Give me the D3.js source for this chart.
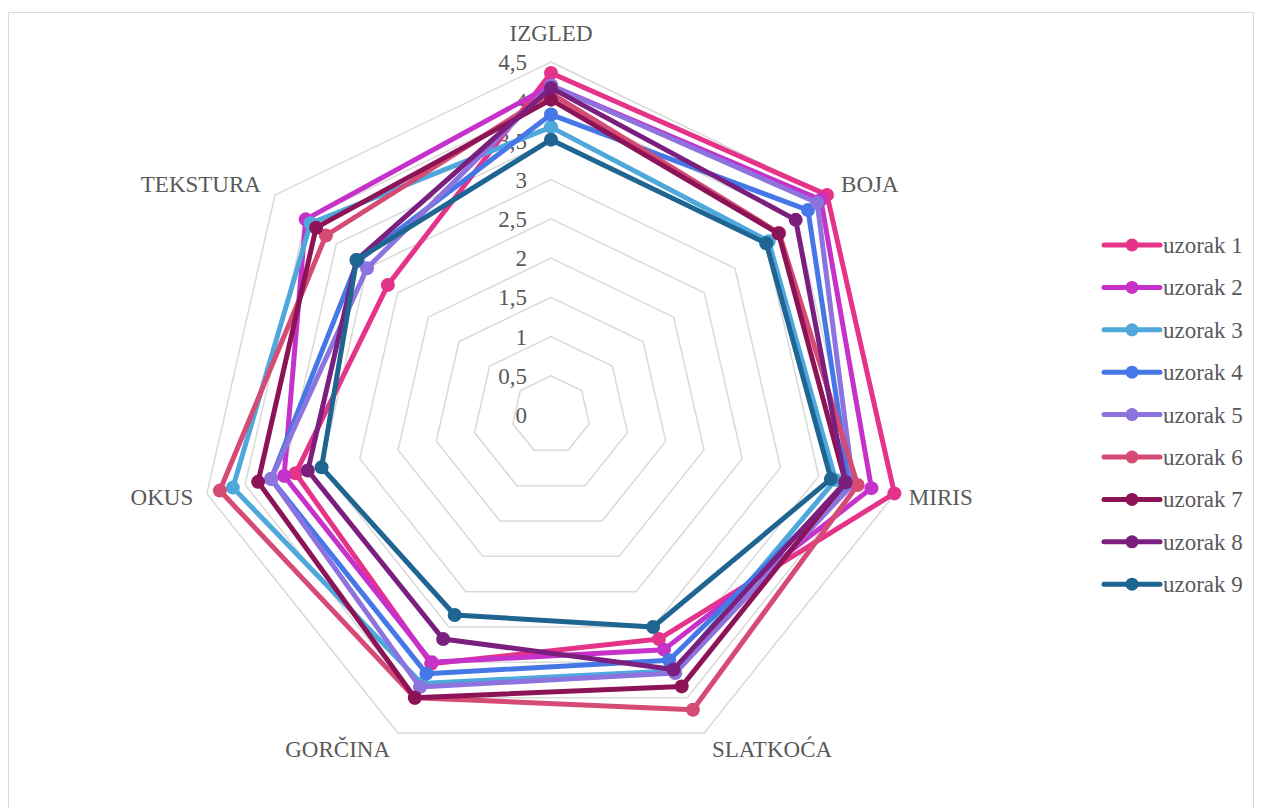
<!DOCTYPE html>
<html>
<head>
<meta charset="utf-8">
<script src="https://cdn.jsdelivr.net/npm/d3@7"></script>
<style>
  body { margin: 0; background: #fff; }
  text { font-family: "Liberation Serif", "Times New Roman", serif; fill: #595959; }
</style>
</head>
<body>
<script>
var width = 1262,
    height = 808,
    cx = 551,
    cy = 415,
    radius = 353;

var axes = ["IZGLED", "BOJA", "MIRIS", "SLATKOĆA", "GORČINA", "OKUS", "TEKSTURA"];
var ticks = [0, 0.5, 1, 1.5, 2, 2.5, 3, 3.5, 4, 4.5];
var names = ["uzorak 1", "uzorak 2", "uzorak 3", "uzorak 4", "uzorak 5", "uzorak 6", "uzorak 7", "uzorak 8", "uzorak 9"];
var colors = ["#e5338a", "#c632c9", "#4fa8dc", "#4677e6", "#8c73dd", "#d64b74", "#8c1456", "#7a1f7d", "#1f6591"];

var uzorak1 = [4.36, 4.5, 4.49, 3.17, 3.52, 3.34, 2.66];
var uzorak2 = [4.2, 4.4, 4.19, 3.32, 3.5, 3.49, 4.0];
var uzorak3 = [3.67, 3.55, 3.72, 3.62, 3.8, 4.16, 3.92];
var uzorak4 = [3.83, 4.19, 3.9, 3.47, 3.66, 3.66, 3.15];
var uzorak5 = [4.2, 4.34, 3.95, 3.65, 3.85, 3.66, 3.0];
var uzorak6 = [4.1, 3.72, 4.01, 4.17, 4.0, 4.33, 3.67];
var uzorak7 = [4.02, 3.71, 3.85, 3.84, 4.0, 3.83, 3.83];
var uzorak8 = [4.17, 3.99, 3.85, 3.6, 3.17, 3.18, 3.17];
var uzorak9 = [3.51, 3.51, 3.66, 3.0, 2.83, 3.0, 3.17];
var series = [uzorak1, uzorak2, uzorak3, uzorak4, uzorak5, uzorak6, uzorak7, uzorak8, uzorak9];

var r = d3.scaleLinear().domain([0, 4.5]).range([0, radius]);
var angle = d3.scalePoint().domain(axes).range([0, 2 * Math.PI * (axes.length - 1) / axes.length]);

var svg = d3.select("body").append("svg")
    .attr("width", width)
    .attr("height", height);

svg.append("rect")
    .attr("x", 8.5).attr("y", 12.5)
    .attr("width", 1245).attr("height", 800)
    .attr("fill", "none")
    .attr("stroke", "#d9d9d9");

var g = svg.append("g")
    .attr("transform", "translate(" + cx + "," + cy + ")");

// grid rings
var ring = d3.lineRadial()
    .angle(function(d) { return angle(d); })
    .curve(d3.curveLinearClosed);

g.selectAll(".ring")
    .data(ticks.slice(1))
    .enter().append("path")
    .attr("class", "ring")
    .attr("d", function(t) { return ring.radius(r(t))(axes); })
    .attr("fill", "none")
    .attr("stroke", "#d9d9d9")
    .attr("stroke-width", 1.5);

// tick labels
g.selectAll(".tick")
    .data(ticks)
    .enter().append("text")
    .attr("class", "tick")
    .attr("x", -24)
    .attr("y", function(t) { return -r(t); })
    .attr("dy", "0.35em")
    .attr("text-anchor", "end")
    .style("font-size", "23px")
    .text(function(t) { return String(t).replace(".", ","); });

// axis labels
g.selectAll(".axis-label")
    .data(axes)
    .enter().append("text")
    .attr("class", "axis-label")
    .attr("transform", function(d) {
      var a = angle(d), c = Math.cos(a),
          d0 = c > 0.9 ? 382 : (Math.abs(c) < 0.3 ? 367 : 371);
      return "translate(" + (Math.sin(a) * d0) + "," + (-c * d0) + ")";
    })
    .attr("dy", "0.35em")
    .attr("text-anchor", function(d) {
      var s = Math.sin(angle(d));
      return Math.abs(s) < 0.1 ? "middle" : (s > 0 ? "start" : "end");
    })
    .style("font-size", "23px")
    .text(function(d) { return d; });

// series
var line = d3.lineRadial()
    .angle(function(d, i) { return angle(axes[i]); })
    .radius(function(d) { return r(d); })
    .curve(d3.curveLinearClosed);

var sg = g.selectAll(".series")
    .data(series)
    .enter().append("g")
    .attr("class", "series");

sg.append("path")
    .attr("d", line)
    .attr("fill", "none")
    .attr("stroke", function(d, i) { return colors[i]; })
    .attr("stroke-width", 5)
    .attr("stroke-linejoin", "round");

sg.each(function(vals, si) {
  d3.select(this).selectAll("circle")
    .data(vals)
    .enter().append("circle")
    .attr("cx", function(d, i) { return Math.sin(angle(axes[i])) * r(d); })
    .attr("cy", function(d, i) { return -Math.cos(angle(axes[i])) * r(d); })
    .attr("r", 7)
    .attr("fill", colors[si]);
});

// legend
var legend = svg.selectAll(".legend")
    .data(names)
    .enter().append("g")
    .attr("class", "legend")
    .attr("transform", function(d, i) { return "translate(1104," + (245 + i * 42.4) + ")"; });

legend.append("line")
    .attr("x1", 0).attr("x2", 56)
    .attr("stroke", function(d, i) { return colors[i]; })
    .attr("stroke-width", 5)
    .attr("stroke-linecap", "round");

legend.append("circle")
    .attr("cx", 28)
    .attr("r", 6.5)
    .attr("fill", function(d, i) { return colors[i]; });

legend.append("text")
    .attr("x", 59)
    .attr("dy", "0.35em")
    .style("font-size", "23px")
    .text(function(d) { return d; });
</script>
</body>
</html>
